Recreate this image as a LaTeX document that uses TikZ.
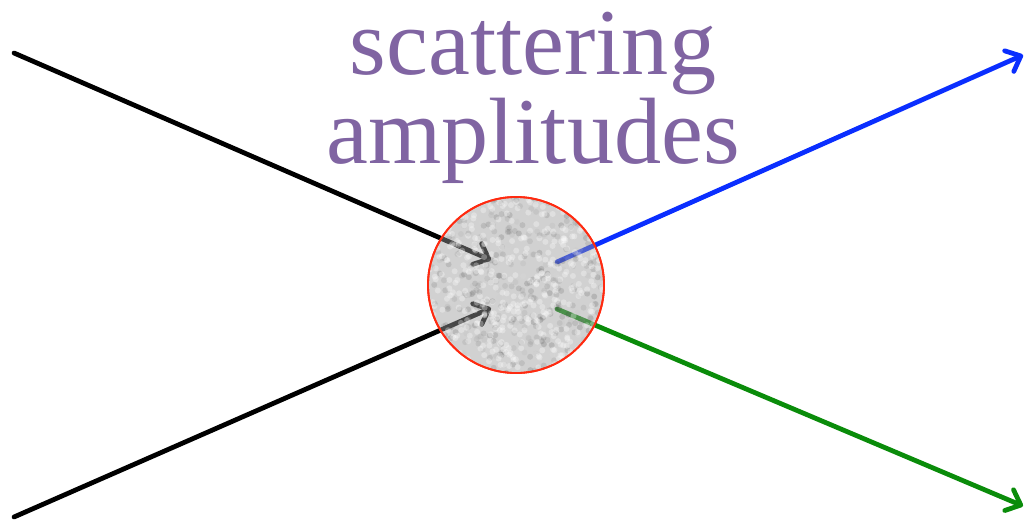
\documentclass[tikz,border=0pt]{standalone}
\usepackage{fontspec}
\setmainfont{Liberation Serif}
\definecolor{amethyst}{HTML}{8064A2}
\definecolor{outblue}{HTML}{0A2EFF}
\definecolor{outgreen}{HTML}{0A8C0A}
\definecolor{rim}{HTML}{FF2A10}
\usetikzlibrary{arrows.meta}

\tikzset{
  leg/.style={line width=3.4pt, line cap=round, -{Straight Barb[length=9pt, width=16pt, round]}},
  blob/.style={circle, minimum size=4.4cm, inner sep=0pt, draw=rim, line width=1.3pt,
    fill=black!40, fill opacity=0.45}
}

\begin{document}
\begin{tikzpicture}[x=0.025cm, y=-0.025cm]
  \useasboundingbox (0,0) rectangle (1026,520);

  % external legs
  \coordinate (in1) at (14,53);
  \coordinate (in2) at (14,517);
  \coordinate (tip1) at (491,260);
  \coordinate (tip2) at (491,308);
  \coordinate (out1) at (557,262);
  \coordinate (out2) at (557,309);
  \coordinate (end1) at (1023,55);
  \coordinate (end2) at (1023,506);

  \draw[leg, black] (in1) -- (tip1);
  \draw[leg, black] (in2) -- (tip2);
  \draw[leg, outblue] (out1) -- (end1);
  \draw[leg, outgreen] (out2) -- (end2);

  % the amplitude itself
  \node[blob] (amp) at (516,285) {};
  \begin{scope}
    \clip (amp.center) circle (2.2cm);
    \pgfmathsetseed{7}
    \foreach \k in {1,...,450} {
      \pgfmathsetmacro{\px}{516+88*rand}
      \pgfmathsetmacro{\py}{285+88*rand}
      \pgfmathsetmacro{\shade}{50+40*rand}
      \fill[black!\shade, opacity=0.15] (\px,\py) circle (3);
    }
    \foreach \k in {1,...,450} {
      \pgfmathsetmacro{\px}{516+88*rand}
      \pgfmathsetmacro{\py}{285+88*rand}
      \fill[white, opacity=0.3] (\px,\py) circle (3);
    }
  \end{scope}
  \draw[rim, line width=1.3pt] (amp.center) circle (2.2cm);

  \node[font=\fontsize{67}{62.6}\selectfont, text=amethyst, align=center, anchor=base]
    (title) at (533,163) {scattering\\amplitudes};
\end{tikzpicture}
\end{document}
